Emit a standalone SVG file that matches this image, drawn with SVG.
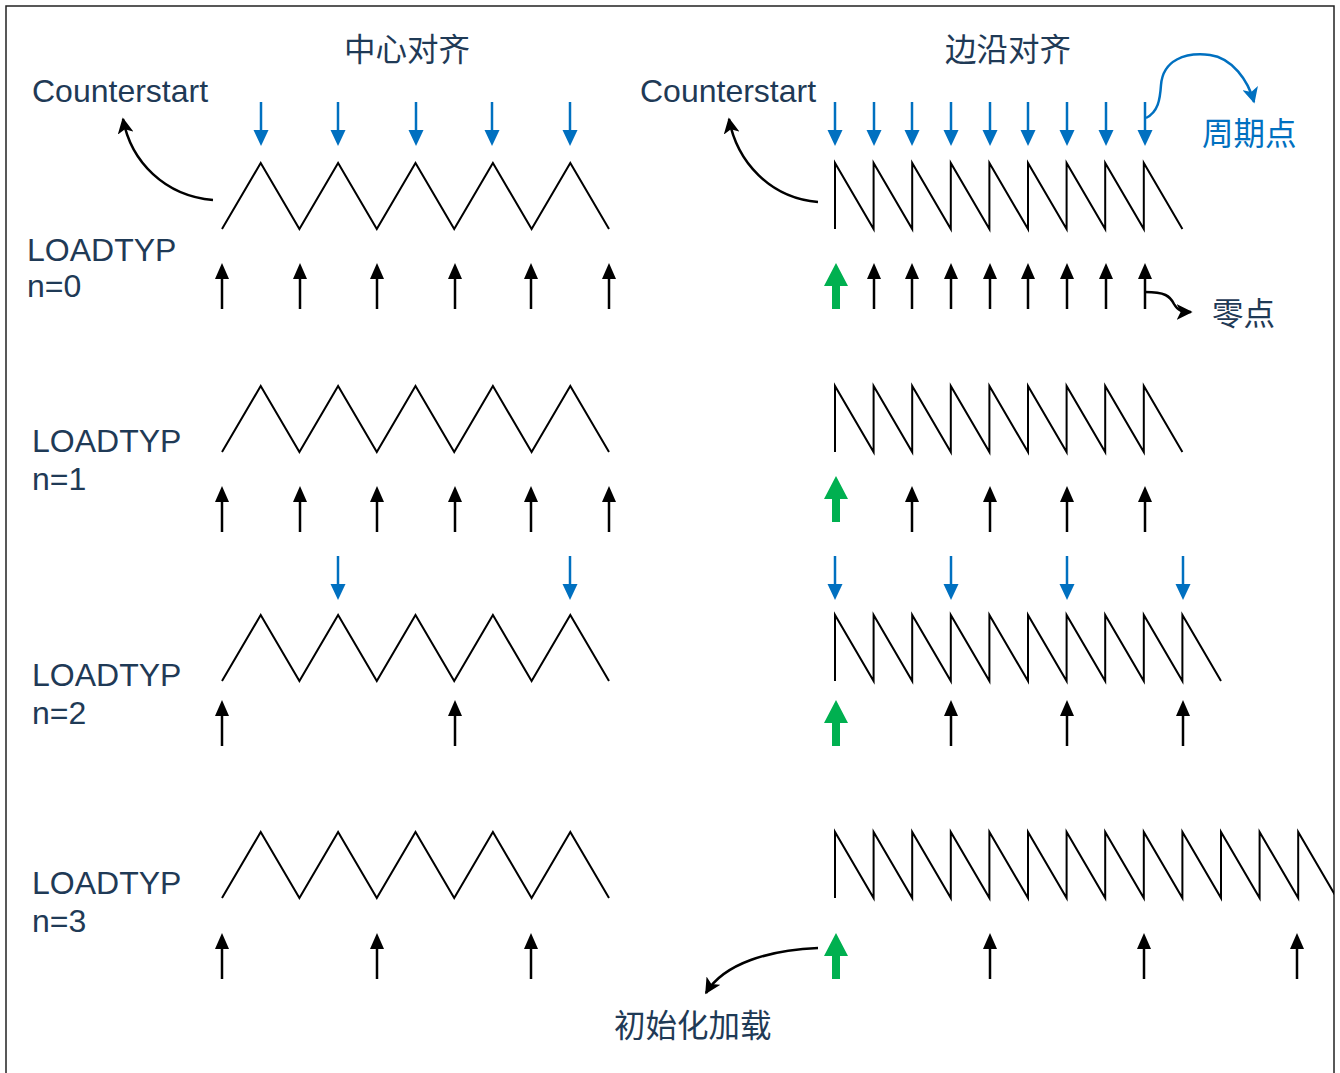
<svg xmlns="http://www.w3.org/2000/svg" xmlns:xlink="http://www.w3.org/1999/xlink" width="1340" height="1073" viewBox="0 0 1340 1073">
<style>
text{font-family:"Liberation Sans","Noto Sans CJK SC",sans-serif;fill:#1f3a56}
.lbl{font-size:32px}
.cjk{font-family:"Noto Sans CJK SC","Liberation Sans",sans-serif;font-size:31.5px}
.blue{fill:#0070c0}
.wave{fill:none;stroke:#000;stroke-width:2;stroke-linejoin:miter}
.curve{fill:none;stroke:#000;stroke-width:2.5}
.bcurve{fill:none;stroke:#0070c0;stroke-width:2.5}
</style>
<defs>
<marker id="ahk" viewBox="0 0 10 10" refX="9" refY="5" markerWidth="16" markerHeight="16" markerUnits="userSpaceOnUse" orient="auto"><path d="M0,0 L10,5 L0,10 L2.5,5 z" fill="#000"/></marker>
<marker id="ahb" viewBox="0 0 10 10" refX="9" refY="5" markerWidth="16" markerHeight="16" markerUnits="userSpaceOnUse" orient="auto"><path d="M0,0 L10,5 L0,10 L2.5,5 z" fill="#0070c0"/></marker>
<g id="up"><line x1="0" y1="12" x2="0" y2="46" stroke="#000" stroke-width="2.5"/><polygon points="0,0 -7,16 7,16" fill="#000"/></g>
<g id="down"><line x1="0" y1="-44" x2="0" y2="-12" stroke="#0070c0" stroke-width="2.5"/><polygon points="0,0 -7.5,-16 7.5,-16" fill="#0070c0"/></g>
<g id="green"><polygon points="0,0 -12,23 -4,23 -4,46 4,46 4,23 12,23" fill="#00b050"/></g>
<clipPath id="clip"><rect x="0" y="0" width="1334" height="1073"/></clipPath>
</defs>
<rect x="6" y="6" width="1328" height="1080" fill="#fff" stroke="#222" stroke-width="1.5"/>

<g id="titles">
<text class="cjk" x="407" y="61" text-anchor="middle">中心对齐</text>
<text class="cjk" x="1008" y="61" text-anchor="middle">边沿对齐</text>
</g>

<g id="labels">
<text class="lbl" x="32" y="102">Counterstart</text>
<text class="lbl" x="640" y="102">Counterstart</text>
<text class="lbl" x="27" y="261">LOADTYP</text>
<text class="lbl" x="27" y="297">n=0</text>
<text class="lbl" x="32" y="452">LOADTYP</text>
<text class="lbl" x="32" y="490">n=1</text>
<text class="lbl" x="32" y="686">LOADTYP</text>
<text class="lbl" x="32" y="724">n=2</text>
<text class="lbl" x="32" y="894">LOADTYP</text>
<text class="lbl" x="32" y="932">n=3</text>
<text class="cjk blue" x="1202" y="145">周期点</text>
<text class="cjk" x="1212" y="325">零点</text>
<text class="cjk" x="614" y="1037">初始化加载</text>
</g>

<g id="row0-center">
<polyline class="wave" points="222,229 260.7,163 299.4,229 338.1,163 376.8,229 415.5,163 454.2,229 492.9,163 531.6,229 570.3,163 609,229"/>
<use xlink:href="#down" x="261" y="146"/><use xlink:href="#down" x="338" y="146"/><use xlink:href="#down" x="416" y="146"/><use xlink:href="#down" x="492" y="146"/><use xlink:href="#down" x="570" y="146"/>
<use xlink:href="#up" x="222" y="263"/><use xlink:href="#up" x="300" y="263"/><use xlink:href="#up" x="377" y="263"/><use xlink:href="#up" x="455" y="263"/><use xlink:href="#up" x="531" y="263"/><use xlink:href="#up" x="609" y="263"/>
</g>

<g id="row0-edge">
<polyline class="wave" points="835,229 835,163 873.6,229 873.6,163 912.2,229 912.2,163 950.8,229 950.8,163 989.4,229 989.4,163 1028,229 1028,163 1066.6,229 1066.6,163 1105.2,229 1105.2,163 1143.8,229 1143.8,163 1182.4,229"/>
<use xlink:href="#down" x="835" y="146"/><use xlink:href="#down" x="874" y="146"/><use xlink:href="#down" x="912" y="146"/><use xlink:href="#down" x="951" y="146"/><use xlink:href="#down" x="990" y="146"/><use xlink:href="#down" x="1028" y="146"/><use xlink:href="#down" x="1067" y="146"/><use xlink:href="#down" x="1106" y="146"/><use xlink:href="#down" x="1145" y="146"/>
<use xlink:href="#green" x="836" y="263"/>
<use xlink:href="#up" x="874" y="263"/><use xlink:href="#up" x="912" y="263"/><use xlink:href="#up" x="951" y="263"/><use xlink:href="#up" x="990" y="263"/><use xlink:href="#up" x="1028" y="263"/><use xlink:href="#up" x="1067" y="263"/><use xlink:href="#up" x="1106" y="263"/><use xlink:href="#up" x="1145" y="263"/>
</g>

<g id="row1-center">
<polyline class="wave" points="222,452 260.7,386 299.4,452 338.1,386 376.8,452 415.5,386 454.2,452 492.9,386 531.6,452 570.3,386 609,452"/>
<use xlink:href="#up" x="222" y="486"/><use xlink:href="#up" x="300" y="486"/><use xlink:href="#up" x="377" y="486"/><use xlink:href="#up" x="455" y="486"/><use xlink:href="#up" x="531" y="486"/><use xlink:href="#up" x="609" y="486"/>
</g>

<g id="row1-edge">
<polyline class="wave" points="835,452 835,386 873.6,452 873.6,386 912.2,452 912.2,386 950.8,452 950.8,386 989.4,452 989.4,386 1028,452 1028,386 1066.6,452 1066.6,386 1105.2,452 1105.2,386 1143.8,452 1143.8,386 1182.4,452"/>
<use xlink:href="#green" x="836" y="476"/>
<use xlink:href="#up" x="912" y="486"/><use xlink:href="#up" x="990" y="486"/><use xlink:href="#up" x="1067" y="486"/><use xlink:href="#up" x="1145" y="486"/>
</g>

<g id="row2-center">
<polyline class="wave" points="222,681 260.7,615 299.4,681 338.1,615 376.8,681 415.5,615 454.2,681 492.9,615 531.6,681 570.3,615 609,681"/>
<use xlink:href="#down" x="338" y="600"/><use xlink:href="#down" x="570" y="600"/>
<use xlink:href="#up" x="222" y="700"/><use xlink:href="#up" x="455" y="700"/>
</g>

<g id="row2-edge">
<polyline class="wave" points="835,681 835,615 873.6,681 873.6,615 912.2,681 912.2,615 950.8,681 950.8,615 989.4,681 989.4,615 1028,681 1028,615 1066.6,681 1066.6,615 1105.2,681 1105.2,615 1143.8,681 1143.8,615 1182.4,681 1182.4,615 1221,681"/>
<use xlink:href="#down" x="835" y="600"/><use xlink:href="#down" x="951" y="600"/><use xlink:href="#down" x="1067" y="600"/><use xlink:href="#down" x="1183" y="600"/>
<use xlink:href="#green" x="836" y="700"/>
<use xlink:href="#up" x="951" y="700"/><use xlink:href="#up" x="1067" y="700"/><use xlink:href="#up" x="1183" y="700"/>
</g>

<g id="row3-center">
<polyline class="wave" points="222,898 260.7,832 299.4,898 338.1,832 376.8,898 415.5,832 454.2,898 492.9,832 531.6,898 570.3,832 609,898"/>
<use xlink:href="#up" x="222" y="933"/><use xlink:href="#up" x="377" y="933"/><use xlink:href="#up" x="531" y="933"/>
</g>

<g id="row3-edge" clip-path="url(#clip)">
<polyline class="wave" points="835,898 835,832 873.6,898 873.6,832 912.2,898 912.2,832 950.8,898 950.8,832 989.4,898 989.4,832 1028,898 1028,832 1066.6,898 1066.6,832 1105.2,898 1105.2,832 1143.8,898 1143.8,832 1182.4,898 1182.4,832 1221,898 1221,832 1259.6,898 1259.6,832 1298.2,898 1298.2,832 1336.8,898"/>
<use xlink:href="#green" x="836" y="933"/>
<use xlink:href="#up" x="990" y="933"/><use xlink:href="#up" x="1144" y="933"/><use xlink:href="#up" x="1297" y="933"/>
</g>

<g id="connectors">
<path class="curve" d="M213,200 C165,196 131,162 123,119" marker-end="url(#ahk)"/>
<path class="curve" d="M818,202 C770,198 737,162 729,119" marker-end="url(#ahk)"/>
<path class="curve" d="M1145,292 C1165,292 1170,296 1174,304 C1178,311 1182,312 1191,312" marker-end="url(#ahk)"/>
<path class="bcurve" d="M1146,118 C1158,112 1160,100 1161,85 C1163,60 1185,52 1210,55 C1232,58 1248,80 1254,102" marker-end="url(#ahb)"/>
<path class="curve" d="M818,948 C770,950 724,963 706,993" marker-end="url(#ahk)"/>
</g>
</svg>
